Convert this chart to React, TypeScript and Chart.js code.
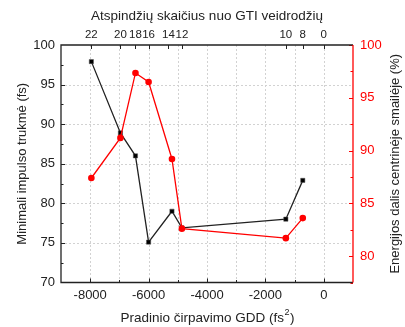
import React, { useEffect, useRef } from 'react';
import { Chart, registerables } from 'chart.js';

Chart.register(...registerables);

// ---- data ----
const gddX = [-7960, -6965, -6450, -6000, -5200, -4860, -1300, -720];
const pulseFs = [97.9, 88.9, 86.0, 75.1, 79.0, 76.9, 78.0, 82.9];
const energyPct = [87.4, 91.2, 97.35, 96.5, 89.2, 82.6, 81.7, 83.6];

const topTickValues = [-7960, -6965, -6450, -6000, -5320, -4860, -1300, -720, 0];
const topTickLabels = ['22', '20', '18', '16', '14', '12', '10', '8', '0'];

const xGridValues = [-8000, -7000, -6000, -5000, -4000, -3000, -2000, -1000, 0];
const yGridValues = [75, 80, 85, 90, 95];
const yTickValues = [72.5, 75, 77.5, 80, 82.5, 85, 87.5, 90, 92.5, 95, 97.5];
const y2TickValues = [77.5, 80, 82.5, 85, 87.5, 90, 92.5, 95, 97.5, 100];
const y2LabelValues = [80, 85, 90, 95, 100];

const FONT = '"Liberation Sans", Arial, sans-serif';
const RED = '#ff0000';

export default function App() {
  const ref = useRef<HTMLCanvasElement>(null);

  useEffect(() => {
    const canvas = ref.current!;

    const decor = {
      id: 'decor',
      beforeDatasetsDraw(chart: any) {
        const { ctx, chartArea: a, scales } = chart;
        ctx.save();
        ctx.strokeStyle = '#d2d2d2';
        ctx.lineWidth = 1;
        ctx.setLineDash([2, 2]);
        for (const v of xGridValues) {
          const px = Math.round(scales.x.getPixelForValue(v)) + 0.5;
          ctx.beginPath();
          ctx.moveTo(px, a.top);
          ctx.lineTo(px, a.bottom);
          ctx.stroke();
        }
        for (const v of yGridValues) {
          const py = Math.round(scales.y.getPixelForValue(v)) + 0.5;
          ctx.beginPath();
          ctx.moveTo(a.left, py);
          ctx.lineTo(a.right, py);
          ctx.stroke();
        }
        ctx.restore();
      },
      afterDraw(chart: any) {
        const { ctx, chartArea: a, scales } = chart;
        ctx.save();
        ctx.setLineDash([]);
        ctx.lineWidth = 1;
        // ticks (inward)
        ctx.strokeStyle = '#222';
        for (const v of yTickValues) {
          const py = Math.round(scales.y.getPixelForValue(v)) + 0.5;
          const len = v % 5 === 0 ? 4 : 2.5;
          ctx.beginPath();
          ctx.moveTo(a.left, py);
          ctx.lineTo(a.left + len, py);
          ctx.stroke();
        }
        for (const v of xGridValues) {
          const px = Math.round(scales.x.getPixelForValue(v)) + 0.5;
          const len = v % 2000 === 0 ? 4 : 2.5;
          ctx.beginPath();
          ctx.moveTo(px, a.bottom);
          ctx.lineTo(px, a.bottom - len);
          ctx.stroke();
        }
        for (const v of topTickValues) {
          const px = Math.round(scales.x2.getPixelForValue(v)) + 0.5;
          ctx.beginPath();
          ctx.moveTo(px, a.top);
          ctx.lineTo(px, a.top + 4);
          ctx.stroke();
        }
        ctx.strokeStyle = RED;
        for (const v of y2TickValues) {
          const py = Math.round(scales.y2.getPixelForValue(v)) + 0.5;
          const len = v % 5 === 0 ? 4 : 2.5;
          ctx.beginPath();
          ctx.moveTo(a.right, py);
          ctx.lineTo(a.right - len, py);
          ctx.stroke();
        }
        // frame
        ctx.lineWidth = 1.3;
        ctx.strokeStyle = '#222';
        ctx.beginPath();
        ctx.moveTo(a.right, a.top);
        ctx.lineTo(a.left, a.top);
        ctx.lineTo(a.left, a.bottom);
        ctx.lineTo(a.right, a.bottom);
        ctx.stroke();
        ctx.strokeStyle = RED;
        ctx.beginPath();
        ctx.moveTo(a.right, a.top);
        ctx.lineTo(a.right, a.bottom);
        ctx.stroke();

        // titles
        ctx.font = `13.5px ${FONT}`;
        ctx.fillStyle = '#222';
        ctx.textAlign = 'center';
        ctx.textBaseline = 'middle';
        const cx = (a.left + a.right) / 2;
        const cy = (a.top + a.bottom) / 2;
        ctx.fillText('Atspindžių skaičius nuo GTI veidrodžių', cx, 16);

        ctx.font = `13px ${FONT}`;
        ctx.save();
        ctx.translate(22, cy);
        ctx.rotate(-Math.PI / 2);
        ctx.fillText('Minimali impulso trukmė (fs)', 0, 0);
        ctx.restore();

        ctx.save();
        ctx.translate(395, cy);
        ctx.rotate(-Math.PI / 2);
        ctx.fillText('Energijos dalis centrinėje smailėje (%)', 0, 0);
        ctx.restore();

        // bottom title with superscript
        const p1 = 'Pradinio čirpavimo GDD (fs';
        const p2 = '2';
        const p3 = ')';
        ctx.textAlign = 'left';
        ctx.font = `13.5px ${FONT}`;
        const w1 = ctx.measureText(p1).width;
        const w3 = ctx.measureText(p3).width;
        ctx.font = `9px ${FONT}`;
        const w2 = ctx.measureText(p2).width;
        const x0 = cx - (w1 + w2 + w3) / 2;
        const by = 318;
        ctx.font = `13.5px ${FONT}`;
        ctx.fillText(p1, x0, by);
        ctx.font = `9px ${FONT}`;
        ctx.fillText(p2, x0 + w1 + 0.5, by - 5);
        ctx.font = `13.5px ${FONT}`;
        ctx.fillText(p3, x0 + w1 + w2 + 1, by);
        ctx.restore();
      },
    };

    const chart = new Chart(canvas, {
      type: 'line',
      data: {
        datasets: [
          {
            label: 'Minimali impulso trukmė',
            data: gddX.map((x, i) => ({ x, y: pulseFs[i] })),
            xAxisID: 'x',
            yAxisID: 'y',
            borderColor: '#222',
            backgroundColor: '#000',
            borderWidth: 1.3,
            pointStyle: 'rect',
            pointRadius: 3,
            pointBorderWidth: 0.5,
            pointBorderColor: '#555',
            order: 1,
          },
          {
            label: 'Energijos dalis',
            data: gddX.map((x, i) => ({ x, y: energyPct[i] })),
            xAxisID: 'x',
            yAxisID: 'y2',
            borderColor: RED,
            backgroundColor: RED,
            borderWidth: 1.3,
            pointStyle: 'circle',
            pointRadius: 3.3,
            pointBorderWidth: 0,
            order: 0,
          },
        ],
      },
      options: {
        animation: false,
        responsive: false,
        events: [],
        layout: { padding: 0 },
        plugins: {
          legend: { display: false },
          tooltip: { enabled: false },
          title: { display: false },
        },
        scales: {
          x: {
            type: 'linear',
            position: 'bottom',
            min: -9000,
            max: 1000,
            afterFit: (s: any) => { s.height = 44.5; },
            grid: { display: false, drawTicks: false },
            border: { display: false },
            ticks: {
              stepSize: 1000,
              autoSkip: false,
              maxRotation: 0,
              padding: 5,
              color: '#222',
              font: { family: FONT, size: 13 },
              callback: (v: any) => (Number(v) % 2000 === 0 ? String(v) : ''),
            },
          },
          x2: {
            type: 'linear',
            position: 'top',
            min: -9000,
            max: 1000,
            afterFit: (s: any) => { s.height = 45; },
            afterBuildTicks: (s: any) => { s.ticks = topTickValues.map((value) => ({ value })); },
            grid: { display: false, drawTicks: false },
            border: { display: false },
            ticks: {
              autoSkip: false,
              maxRotation: 0,
              padding: 3,
              color: '#222',
              font: { family: FONT, size: 11.5 },
              callback: (_v: any, i: number) => topTickLabels[i],
            },
          },
          y: {
            type: 'linear',
            position: 'left',
            min: 70,
            max: 100,
            afterFit: (s: any) => { s.width = 61; },
            grid: { display: false, drawTicks: false },
            border: { display: false },
            ticks: {
              stepSize: 5,
              autoSkip: false,
              padding: 6,
              color: '#222',
              font: { family: FONT, size: 13 },
            },
          },
          y2: {
            type: 'linear',
            position: 'right',
            min: 77.5,
            max: 100,
            afterFit: (s: any) => { s.width = 52; },
            afterBuildTicks: (s: any) => { s.ticks = y2LabelValues.map((value) => ({ value })); },
            grid: { display: false, drawTicks: false },
            border: { display: false },
            ticks: {
              autoSkip: false,
              padding: 7,
              color: RED,
              font: { family: FONT, size: 13 },
            },
          },
        },
      },
      plugins: [decor],
    });

    return () => chart.destroy();
  }, []);

  return (
    <div style={{ position: 'fixed', left: 0, top: 0, width: 405, height: 327, background: '#fff' }}>
      <canvas ref={ref} width={405} height={327} style={{ display: 'block', width: 405, height: 327 }} />
    </div>
  );
}
